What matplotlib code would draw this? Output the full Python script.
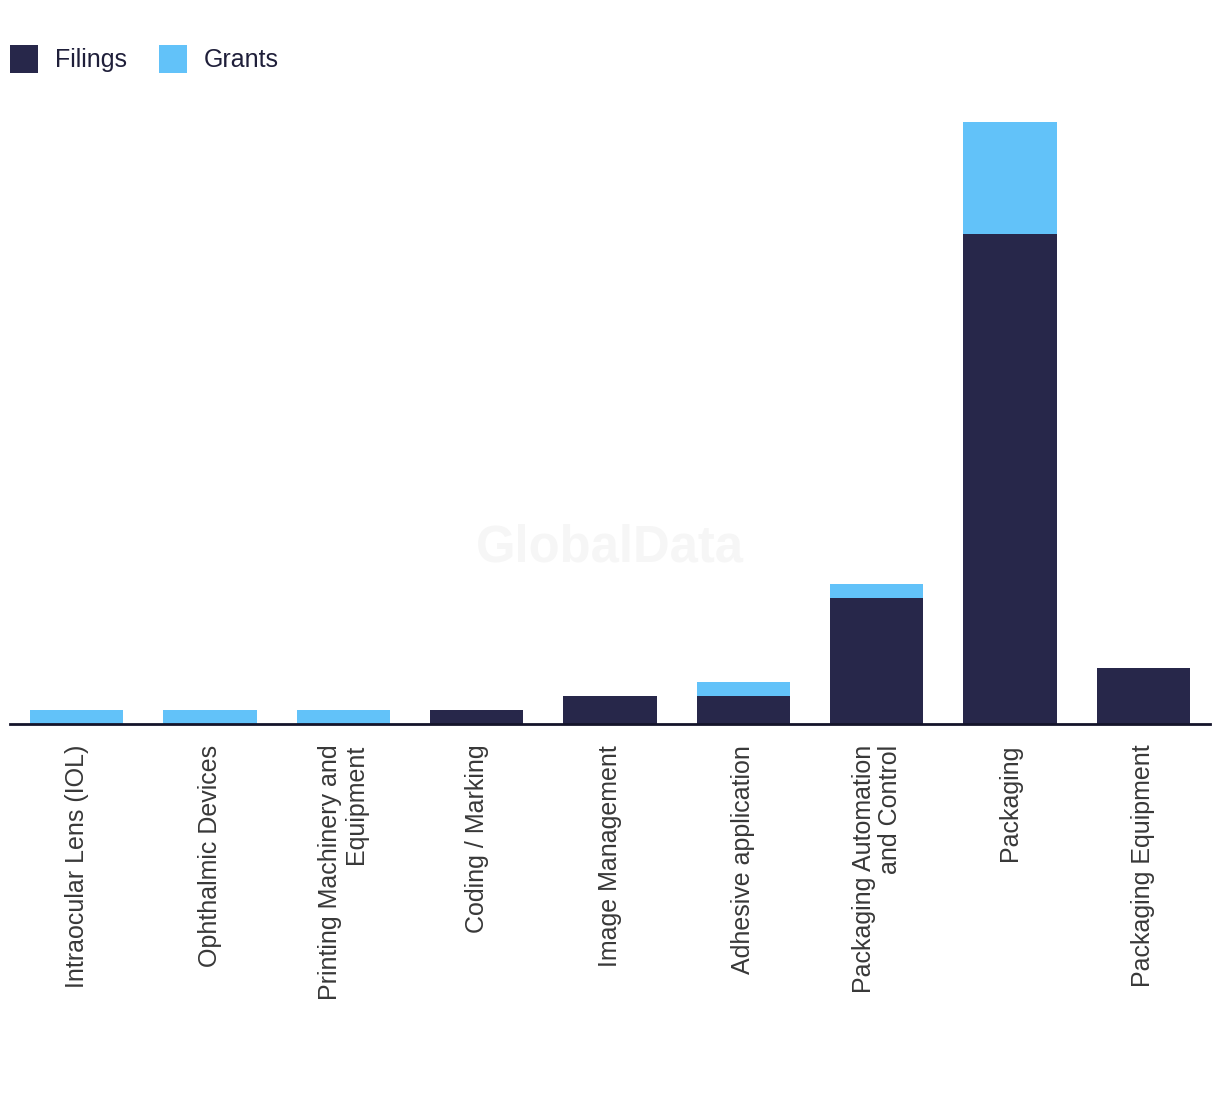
import matplotlib.pyplot as plt

# categories and counts
categories = ["Intraocular Lens (IOL)", "Ophthalmic Devices", "Printing Machinery and\nEquipment",
              "Coding / Marking", "Image Management", "Adhesive application",
              "Packaging Automation\nand Control", "Packaging", "Packaging Equipment"]
filings = [0, 0, 0, 1, 2, 2, 9, 35, 4]
grants = [1, 1, 1, 0, 0, 1, 1, 8, 0]

navy = "#27274a"
blue = "#62c2f9"

fig = plt.figure(figsize=(12.2, 10.94), dpi=100)
ax = fig.add_axes([10 / 1220, (1094 - 724) / 1094, 1200 / 1220, 630 / 1094])

x = list(range(len(categories)))
ax.bar(x, filings, width=0.7, color=navy, label="Filings", zorder=2)
ax.bar(x, grants, width=0.7, bottom=filings, color=blue, label="Grants", zorder=2)

ax.set_xlim(-0.5, len(categories) - 0.5)
ax.set_ylim(0, 45)
ax.set_yticks([])
for s in ["top", "left", "right"]:
    ax.spines[s].set_visible(False)
ax.spines["bottom"].set_color("#14142a")
ax.spines["bottom"].set_linewidth(2)
ax.spines["bottom"].set_zorder(3)

ax.set_xticks(x)
ax.set_xticklabels(categories, rotation=90, fontsize=18, color="#383838",
                   family="Liberation Sans", va="top", ha="center", multialignment="right",
                   linespacing=1.1)
ax.tick_params(axis="x", length=0, pad=15)

# faint watermark
fig.text(0.5, (1094 - 548) / 1094, "GlobalData", ha="center", va="center",
         fontsize=36.5, fontweight="bold", color="#f6f6f6", family="Liberation Sans", zorder=0)

leg = fig.legend(loc="upper left", bbox_to_anchor=(10 / 1220, 1 - 45 / 1094), ncol=2, frameon=False,
                 fontsize=18, handlelength=1.12, handleheight=1.35, handletextpad=0.68,
                 columnspacing=1.28, borderpad=0, borderaxespad=0)
for t in leg.get_texts():
    t.set_color("#1f1f3a")
    t.set_family("Liberation Sans")

fig.savefig("out.png", dpi=100)
